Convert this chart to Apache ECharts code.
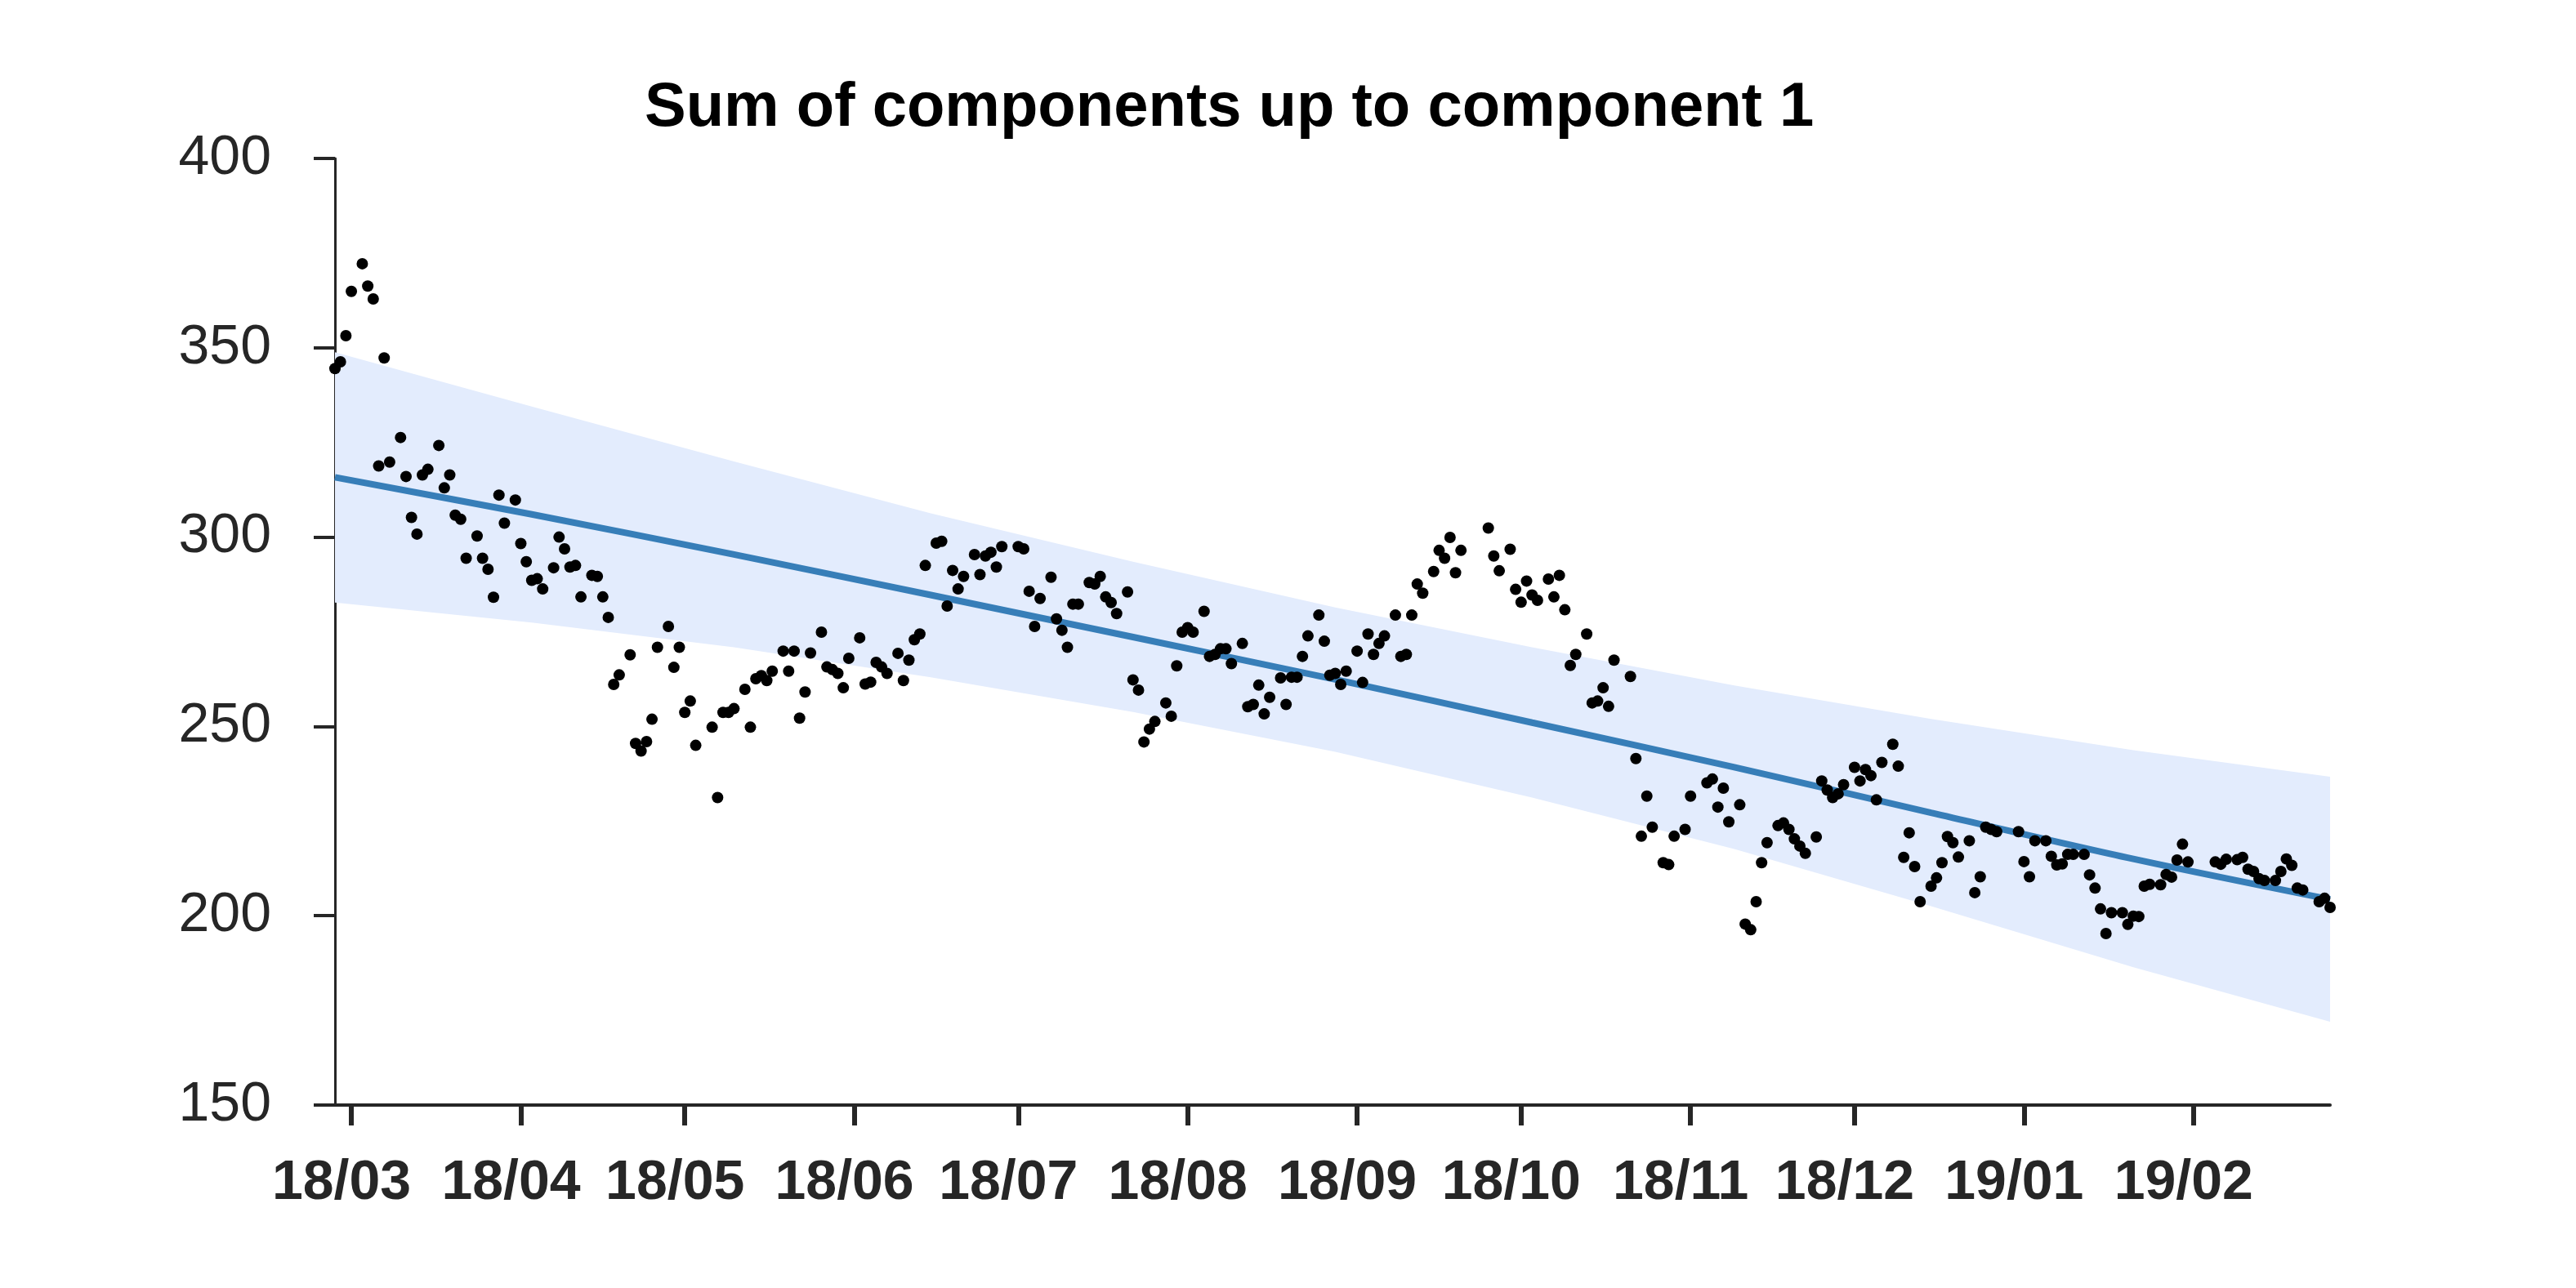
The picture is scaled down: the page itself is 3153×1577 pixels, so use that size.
<!DOCTYPE html>
<html><head><meta charset="utf-8">
<script src="https://cdn.jsdelivr.net/npm/echarts@6/dist/echarts.min.js"></script>
<style>html,body{margin:0;padding:0;background:#fff}#c{width:3153px;height:1577px}</style>
</head><body><div id="c"></div>
<script>
// first observation day (year, monthIndex, day) = 2018-02-26; one value per day, null = no observation
const startDate = [2018, 1, 26];
const obs = [
344.5,346.3,353.2,364.9,null,372.2,366.3,362.9,318.8,347.3,
319.8,null,326.3,316.0,305.2,300.8,316.4,317.9,null,324.2,
313.0,316.4,305.8,304.7,294.4,null,300.3,294.4,291.5,284.1,
311.1,303.7,null,309.8,298.3,293.5,288.6,289.0,286.3,null,
291.9,300.0,296.9,292.1,292.5,284.2,null,289.9,289.6,284.2,
278.8,261.1,263.6,null,268.9,245.5,243.5,246.0,251.9,270.9,
null,276.4,265.6,270.9,253.7,256.7,245.0,null,null,249.8,
231.2,253.7,253.7,254.7,null,259.8,249.8,262.6,263.4,262.1,
264.6,null,269.9,264.6,269.9,252.2,259.1,269.4,null,274.9,
265.7,265.0,264.0,260.2,268.0,null,273.4,261.2,261.7,266.9,
265.7,264.0,null,269.3,262.1,267.5,272.9,274.4,292.5,null,
298.4,298.9,281.8,291.2,286.3,289.6,null,295.4,290.1,295.0,
296.0,292.1,297.5,null,null,297.5,296.9,285.7,276.4,283.8,
null,289.4,278.4,275.4,270.9,282.3,282.3,null,288.0,287.6,
289.6,284.2,282.7,279.8,null,285.5,262.3,259.6,245.9,249.3,
251.3,null,256.2,252.7,266.0,274.9,276.1,274.9,null,280.4,
268.5,269.0,270.5,270.5,266.6,null,271.9,255.2,255.8,260.9,
253.3,257.7,null,262.8,255.8,263.0,263.0,268.5,273.9,null,
279.4,272.5,263.5,264.0,261.1,264.6,null,269.9,261.6,274.4,
269.0,271.9,273.9,null,279.4,268.5,269.0,279.4,287.6,285.2,
null,290.9,296.5,294.4,299.9,290.6,296.5,null,null,null,
null,302.4,295.0,291.1,null,296.8,286.2,282.8,288.4,284.7,
283.3,null,288.9,284.2,289.9,280.8,266.1,269.0,null,274.4,
256.2,256.7,260.2,255.3,267.5,null,null,263.2,241.5,221.0,
231.6,223.4,null,214.0,213.5,221.0,null,222.8,231.6,null,
null,235.1,236.1,228.7,233.7,224.8,null,229.3,197.8,196.3,
203.7,214.0,219.3,null,223.8,224.5,222.8,220.3,218.4,216.5,
null,220.8,235.6,233.2,231.2,232.2,234.6,null,239.2,235.6,
238.6,237.0,230.6,240.5,null,245.3,239.5,215.4,221.9,213.0,
203.7,null,207.8,210.0,214.0,220.9,219.3,215.5,null,219.8,
206.1,210.3,223.4,222.8,222.2,null,null,null,222.2,214.3,
210.3,219.8,null,219.8,215.7,213.4,213.7,216.2,216.2,null,
216.2,210.8,207.3,201.8,195.3,200.8,null,200.8,197.7,199.9,
199.8,207.8,208.3,null,208.2,210.9,210.2,214.7,218.9,214.2,
null,null,null,null,214.2,213.6,214.9,null,214.8,215.4,
212.3,211.7,209.8,209.3,null,209.3,211.7,215.0,213.3,207.3,
206.8,null,null,203.7,204.6,202.2
];
// fitted trend and its band, read at these day offsets
const bandDays  = [0, 36, 73, 109, 146, 183, 219, 256, 292, 329, 365];
const trendFit  = [315.8, 306.0, 295.4, 284.7, 273.6, 262.4, 251.0, 239.2, 227.2, 215.0, 204.3];
const bandUpper = [348.8, 334.5, 320.0, 306.3, 293.5, 281.4, 270.9, 260.8, 252.0, 243.7, 236.7];
const bandLower = [282.7, 277.4, 270.9, 263.0, 253.8, 243.3, 231.2, 217.6, 202.5, 186.4, 172.0];
const monthTicks = ['2018-03-01','2018-04-01','2018-05-01','2018-06-01','2018-07-01','2018-08-01',
                    '2018-09-01','2018-10-01','2018-11-01','2018-12-01','2019-01-01','2019-02-01'];
const yTicks = {min: 150, max: 400, step: 50};

const DAY = 86400000;
const t0 = Date.UTC(startDate[0], startDate[1], startDate[2]);
function dayOf(s) { const p = s.split('-').map(Number); return Math.round((Date.UTC(p[0], p[1] - 1, p[2]) - t0) / DAY); }
function labelOf(d) {
  const dt = new Date(t0 + Math.round(d) * DAY);
  return String(dt.getUTCFullYear()).slice(2) + '/' + String(dt.getUTCMonth() + 1).padStart(2, '0');
}
const tickDays = monthTicks.map(dayOf);
const points = [];
obs.forEach((v, d) => { if (v !== null) points.push([d, v]); });
const trendData = bandDays.map((d, i) => [d, trendFit[i]]);
const bandData = bandDays.map((d, i) => [d, bandLower[i], bandUpper[i]]);

function renderBand(params, api) {
  if (params.dataIndex !== 0) return null;
  const up = [], lo = [];
  for (let i = 0; i < bandData.length; i++) {
    up.push(api.coord([bandData[i][0], bandData[i][2]]));
    lo.push(api.coord([bandData[i][0], bandData[i][1]]));
  }
  return {
    type: 'polygon',
    shape: {points: up.concat(lo.reverse())},
    style: {fill: '#e3ecfd', stroke: null}
  };
}

const chart = echarts.init(document.getElementById('c'), null, {renderer: 'canvas'});
const ink = '#262626';
chart.setOption({
  animation: false,
  backgroundColor: '#ffffff',
  textStyle: {fontFamily: 'Liberation Sans'},
  title: {
    text: 'Sum of components up to component 1',
    left: 784, top: 90,
    textStyle: {fontSize: 76, fontWeight: 'bold', color: '#000', fontFamily: 'Liberation Sans'}
  },
  grid: {left: 410, right: 301, top: 194, bottom: 224, containLabel: false, outerBoundsMode: 'none'},
  xAxis: {
    type: 'value',
    min: 0, max: obs.length - 1,
    splitLine: {show: false},
    axisLine: {show: true, lineStyle: {color: ink, width: 4}},
    axisTick: {show: true, customValues: tickDays, length: 25, lineStyle: {color: ink, width: 6}},
    axisLabel: {
      customValues: tickDays,
      formatter: function (v) { return labelOf(v); },
      fontSize: 68, fontWeight: 'bold', color: ink, margin: 62, padding: [0, 24, 0, 0],
      fontFamily: 'Liberation Sans'
    }
  },
  yAxis: {
    type: 'value',
    min: yTicks.min, max: yTicks.max, interval: yTicks.step,
    splitLine: {show: false},
    axisLine: {show: true, lineStyle: {color: ink, width: 3}},
    axisTick: {show: true, length: 26, lineStyle: {color: ink, width: 4}},
    axisLabel: {fontSize: 68, color: ink, margin: 78, fontFamily: 'Liberation Sans'}
  },
  series: [
    {
      type: 'custom', data: bandData, renderItem: renderBand, silent: true, z: 1,
      encode: {x: 0, y: [1, 2]}, clip: true
    },
    {
      type: 'line', data: trendData, symbol: 'none', smooth: 0.3,
      lineStyle: {color: '#377eb8', width: 8}, z: 2
    },
    {
      type: 'scatter', data: points, symbol: 'circle', symbolSize: 14,
      itemStyle: {color: '#000000', opacity: 1}, z: 3
    }
  ]
});
</script>
</body></html>
